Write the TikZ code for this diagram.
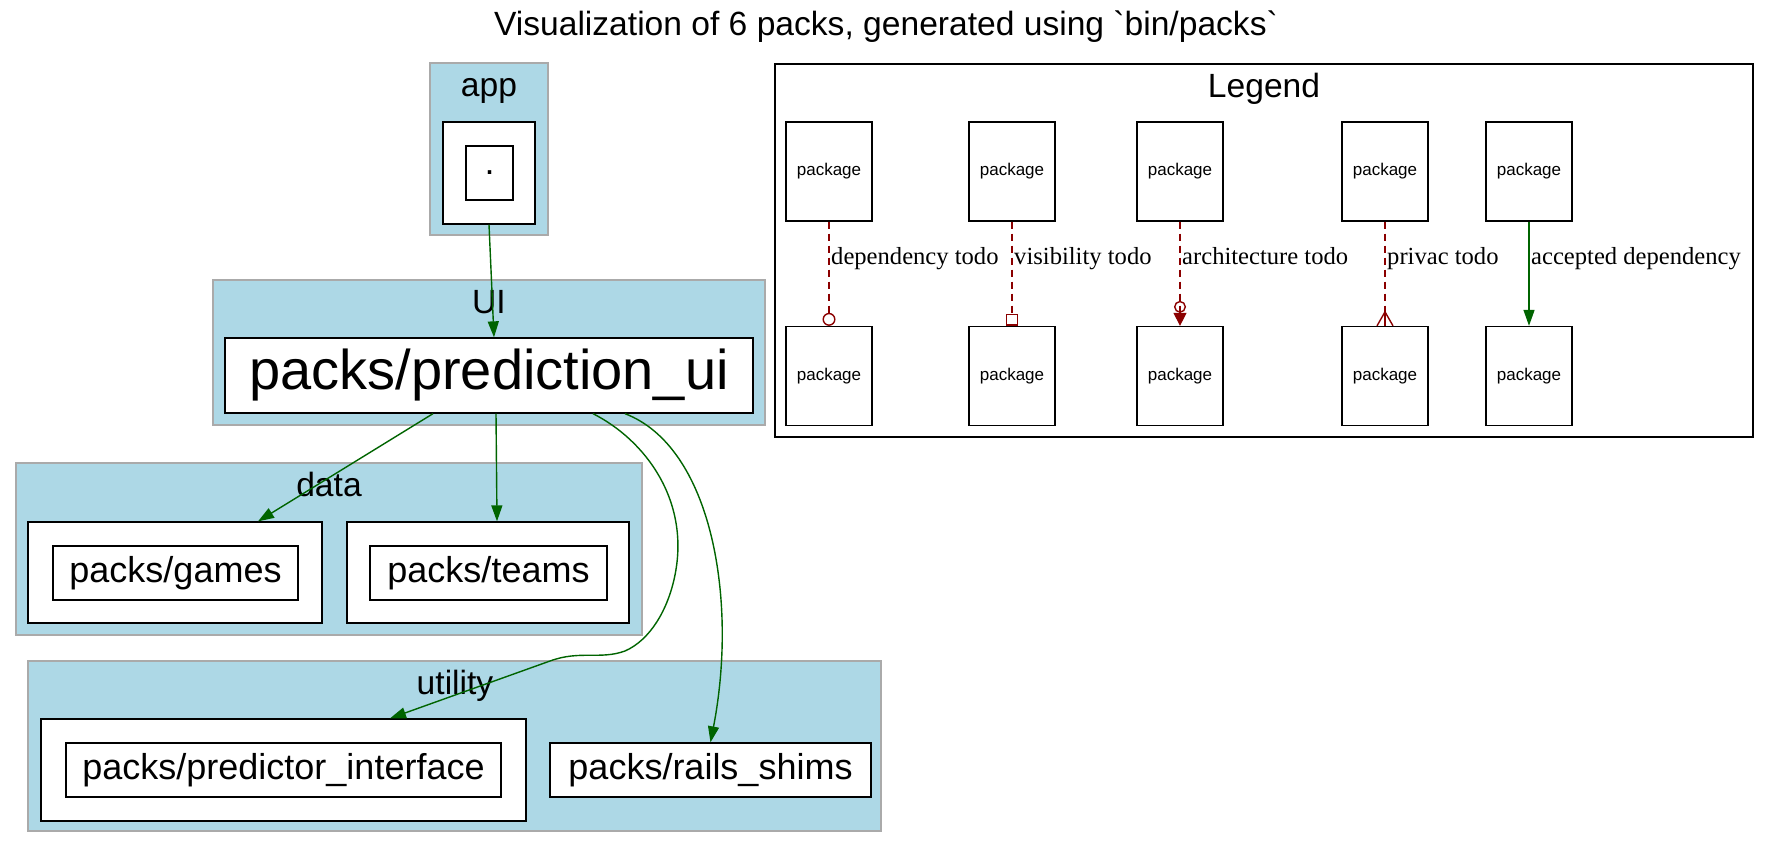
\documentclass[tikz,border=0pt]{standalone}
\usepackage{fontspec}
\setmainfont{Liberation Serif}
\newfontfamily\gvsans{Liberation Sans}
\usetikzlibrary{arrows.meta,calc}
\definecolor{clusterfill}{RGB}{173,216,230}
\definecolor{clusterline}{RGB}{170,170,170}
\definecolor{okgreen}{RGB}{0,100,0}
\definecolor{todored}{RGB}{139,0,0}
\begin{document}
\begin{tikzpicture}[x=1pt,y=-1pt,
  cluster/.style={fill=clusterfill,draw=clusterline,line width=1.5pt},
  pkgbox/.style={draw=black,line width=1.3pt,fill=white,inner sep=0pt,font=\gvsans\fontsize{36}{43}\selectfont},
  clabel/.style={anchor=base,inner sep=0pt,font=\gvsans\fontsize{33.6}{40}\selectfont},
  legbox/.style={draw=black,line width=1.3pt,inner sep=0pt,minimum width=86pt,minimum height=99pt,font=\gvsans\fontsize{17}{20}\selectfont},
  okedge/.style={draw=okgreen,line width=1.4pt,-{Triangle[length=16pt,width=11pt]}},
  todoedge/.style={draw=todored,line width=1.4pt,dash pattern=on 7pt off 5pt},
  elabel/.style={anchor=base west,inner sep=0pt,font=\fontsize{24.6}{29}\selectfont},
]
\useasboundingbox (0,0) rectangle (1771,849);

\node[clabel,anchor=center] (title) at (886,27) {Visualization of 6 packs, generated using `bin/packs`};

% clusters
\draw[cluster] (430,63) rectangle (548,235);
\node[clabel] (applbl) at (489,96) {app};
\draw[cluster] (213,280) rectangle (765,425);
\node[clabel] (uilbl) at (489,313) {UI};
\draw[cluster] (16,463) rectangle (642,635);
\node[clabel] (datalbl) at (329,496) {data};
\draw[cluster] (28,661) rectangle (881,831);
\node[clabel] (utillbl) at (455,694) {utility};
\draw[draw=black,line width=1.2pt] (775,64) rectangle (1753,437);
\node[clabel] (leglbl) at (1264,97) {Legend};

% app
\node[pkgbox,minimum width=92pt,minimum height=102pt] (appo) at (489,173) {};
\node[pkgbox,minimum width=47pt,minimum height=54pt] (appi) at (489.5,173) {.};

% UI
\node[pkgbox,minimum width=528pt,minimum height=75pt,font=\gvsans\fontsize{56}{64}\selectfont] (ui) at (489,375.5) {packs/prediction\_ui};

% data
\node[pkgbox,minimum width=294pt,minimum height=101pt] (games) at (175,572.5) {};
\node[pkgbox,minimum width=245pt,minimum height=54pt] (gamesi) at (175.5,573) {packs/games};
\node[pkgbox,minimum width=282pt,minimum height=101pt] (teams) at (488,572.5) {};
\node[pkgbox,minimum width=237pt,minimum height=54pt] (teamsi) at (488.5,573) {packs/teams};

% utility
\node[pkgbox,minimum width=485pt,minimum height=102pt] (pio) at (283.5,770) {};
\node[pkgbox,minimum width=435pt,minimum height=54pt] (pii) at (283.5,770) {packs/predictor\_interface};
\node[pkgbox,minimum width=321pt,minimum height=54pt] (rails) at (710.5,770) {packs/rails\_shims};

% edges
\draw[okedge] (appo.south) -- ([xshift=5pt]ui.north);
\draw[okedge] ([xshift=-56pt]ui.south) -- ([xshift=83pt]games.north);
\draw[okedge] ([xshift=7pt]ui.south) -- ([xshift=9pt]teams.north);
\draw[okedge] ([xshift=104pt]ui.south) .. controls (645,440) and (690,500) .. (675,575)
  .. controls (668,610) and (650,640) .. (625,651)
  .. controls (600,660) and (580,650) .. (550,661) -- ([xshift=106.5pt]pio.north);
\draw[okedge] ([xshift=136pt]ui.south) .. controls (712,447) and (738,600) .. (rails.north);

% legend boxes
\node[legbox] (lt1) at (829,171.5) {package};
\node[legbox] (lb1) at (829,376) {package};
\node[legbox] (lt2) at (1012,171.5) {package};
\node[legbox] (lb2) at (1012,376) {package};
\node[legbox] (lt3) at (1180,171.5) {package};
\node[legbox] (lb3) at (1180,376) {package};
\node[legbox] (lt4) at (1385,171.5) {package};
\node[legbox] (lb4) at (1385,376) {package};
\node[legbox] (lt5) at (1529,171.5) {package};
\node[legbox] (lb5) at (1529,376) {package};

\draw[todoedge,-{Circle[open,length=13pt]}] (lt1.south) -- (lb1.north);
\draw[todoedge,-{Square[open,length=12pt]}] (lt2.south) -- (lb2.north);
\draw[todoedge,-{Circle[open,length=12pt] Triangle[length=13pt,width=13pt]}] (lt3.south) -- (lb3.north);
\draw[todoedge] (lt4.south) -- (lb4.north);
\draw[draw=todored,line width=1.4pt] ([xshift=-8pt]lb4.north) -- ([yshift=14pt]lb4.north) -- ([xshift=8pt]lb4.north);
\draw[draw=todored,line width=1.4pt] ([yshift=14pt]lb4.north) -- (lb4.north);
\draw[okedge] (lt5.south) -- (lb5.north);

\node[elabel] (l1) at (831,264) {dependency todo};
\node[elabel] (l2) at (1014,264) {visibility todo};
\node[elabel] (l3) at (1182,264) {architecture todo};
\node[elabel] (l4) at (1387,264) {privac todo};
\node[elabel] (l5) at (1531,264) {accepted dependency};
\end{tikzpicture}
\end{document}
